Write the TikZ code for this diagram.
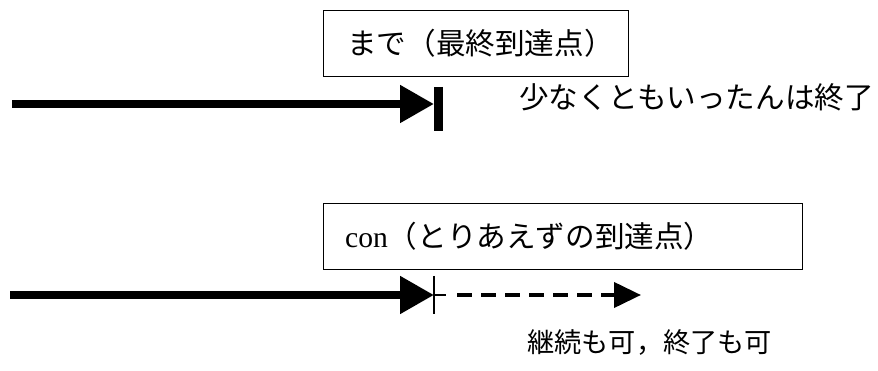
\documentclass[tikz,border=0pt]{standalone}
\usepackage{fontspec}
\setmainfont{Liberation Serif}
\newfontfamily\jp{Noto Sans CJK JP}
\usetikzlibrary{arrows.meta}
\begin{document}
\begin{tikzpicture}[x=1pt,y=-1pt,
  labelbox/.style={draw,line width=1.4pt,minimum height=66pt,inner sep=0pt,anchor=north west},
  jtext/.style={font=\fontsize{29.6}{32}\selectfont\jp,inner sep=0pt},
  jsmall/.style={font=\fontsize{27.2}{30}\selectfont\jp,inner sep=0pt},
  thickarrow/.style={line width=8pt,-{Triangle[length=34pt,width=36pt]}},
  dasharrow/.style={line width=4pt,dash pattern=on 15pt off 9pt,-{Triangle[length=27pt,width=25pt]}},
  endbar/.style={line width=9pt},
  tickbar/.style={line width=1.5pt}]
\useasboundingbox (0,0) rectangle (878,371);
% top
\node[labelbox,minimum width=305pt] (box1) at (323,10) {};
\node[jtext,anchor=west] (t1) at (347,43) {まで（最終到達点）};
\coordinate (s1) at (12,104);
\coordinate (e1) at (434,104);
\draw[thickarrow] (s1) -- (e1);
\coordinate (b1t) at (438,87);
\coordinate (b1b) at (438,131);
\draw[endbar] (b1t) -- (b1b);
\node[jtext,anchor=west] (r1) at (519,97) {少なくともいったんは終了};
% bottom
\node[labelbox,minimum width=479pt] (box2) at (323,203) {};
\node[jtext,anchor=west] (t2) at (345,236) {{\rmfamily con}（とりあえずの到達点）};
\coordinate (s2) at (10,295);
\coordinate (e2) at (434,295);
\draw[thickarrow] (s2) -- (e2);
\coordinate (b2t) at (434,276);
\coordinate (b2b) at (434,314);
\draw[tickbar] (b2t) -- (b2b);
\coordinate (h2) at (446,295);
\draw[tickbar] (e2) -- (h2);
\coordinate (d2s) at (457,295);
\coordinate (d2e) at (641,295);
\draw[dasharrow] (d2s) -- (d2e);
\node[jsmall,anchor=west] (r2) at (527,343) {継続も可，終了も可};
\end{tikzpicture}
\end{document}
